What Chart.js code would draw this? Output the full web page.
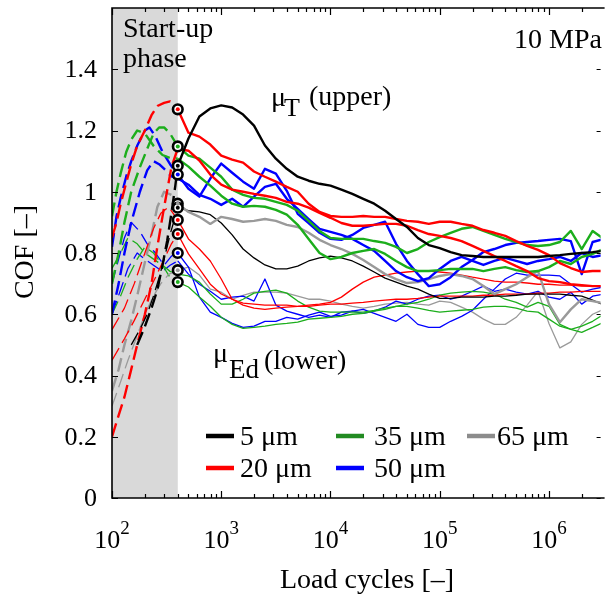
<!DOCTYPE html>
<html>
<head>
<meta charset="utf-8">
<script src="https://cdn.jsdelivr.net/npm/chart.js@4.4.1/dist/chart.umd.min.js"></script>
<style>
  html, body { margin: 0; padding: 0; overflow: hidden; background: #fff; }
  canvas { display: block; }
</style>
</head>
<body>
<canvas id="cof" width="608" height="600"></canvas>
<script>
// COF vs load cycles, 10 MPa, upper (mu_T) and lower (mu_Ed) curves per roughness
const cycles = [400, 501, 631, 794, 1000, 1259, 1585, 1995, 2512, 3162, 3981, 5012, 6310, 7943,
  10000, 12589, 15849, 19953, 25119, 31623, 39811, 50119, 63096, 79433, 100000, 125893, 158489,
  199526, 251189, 316228, 398107, 501187, 630957, 794328, 1000000, 1258925, 1584893, 1995262,
  2511886, 3162278];

// upper curves (mu_T)
const blackUpper = [1.085, 1.174, 1.246, 1.272, 1.282, 1.275, 1.252, 1.216, 1.151, 1.108, 1.075, 1.049, 1.036, 1.026, 1.02, 1.007, 0.993, 0.977, 0.961, 0.938, 0.911, 0.885, 0.849, 0.826, 0.816, 0.803, 0.793, 0.79, 0.787, 0.787, 0.787, 0.787, 0.787, 0.787, 0.79, 0.793, 0.797, 0.8, 0.803, 0.807];
const redUpperA = [1.269, 1.193, 1.18, 1.154, 1.118, 1.105, 1.095, 1.066, 1.049, 1.033, 1.016, 1.0, 0.961, 0.934, 0.921, 0.918, 0.918, 0.921, 0.918, 0.918, 0.911, 0.905, 0.902, 0.895, 0.902, 0.902, 0.895, 0.889, 0.875, 0.866, 0.856, 0.839, 0.823, 0.81, 0.793, 0.767, 0.751, 0.738, 0.741, 0.741];
const redUpperB = [1.141, 1.134, 1.102, 1.056, 1.023, 1.007, 1.0, 0.993, 0.987, 0.98, 0.967, 0.961, 0.948, 0.931, 0.915, 0.898, 0.889, 0.889, 0.892, 0.895, 0.895, 0.889, 0.875, 0.862, 0.856, 0.849, 0.839, 0.823, 0.807, 0.79, 0.774, 0.757, 0.741, 0.718, 0.708, 0.705, 0.698, 0.695, 0.692, 0.692];
const greenUpperA = [1.148, 1.118, 1.108, 1.079, 1.049, 1.007, 0.99, 0.98, 0.977, 0.967, 0.957, 0.938, 0.905, 0.872, 0.849, 0.846, 0.846, 0.846, 0.839, 0.833, 0.82, 0.8, 0.813, 0.836, 0.852, 0.866, 0.879, 0.885, 0.872, 0.859, 0.846, 0.836, 0.826, 0.823, 0.826, 0.836, 0.872, 0.813, 0.872, 0.846];
const greenUpperB = [1.108, 1.082, 1.049, 1.02, 0.987, 0.961, 0.951, 0.954, 0.951, 0.941, 0.925, 0.892, 0.846, 0.8, 0.78, 0.787, 0.8, 0.807, 0.813, 0.797, 0.774, 0.754, 0.741, 0.741, 0.744, 0.748, 0.748, 0.748, 0.741, 0.748, 0.754, 0.744, 0.738, 0.741, 0.754, 0.774, 0.764, 0.787, 0.797, 0.813];
const blueUpperA = [1.056, 1.01, 0.984, 1.043, 1.092, 1.062, 1.033, 1.01, 1.075, 1.059, 1.003, 0.928, 0.898, 0.866, 0.846, 0.843, 0.859, 0.882, 0.892, 0.902, 0.83, 0.774, 0.731, 0.692, 0.698, 0.721, 0.754, 0.777, 0.803, 0.813, 0.826, 0.833, 0.836, 0.839, 0.843, 0.846, 0.839, 0.731, 0.836, 0.846];
const blueUpperB = [1.043, 1.023, 0.99, 0.977, 0.957, 0.977, 0.951, 0.984, 1.016, 1.026, 0.977, 0.944, 0.911, 0.879, 0.869, 0.859, 0.846, 0.826, 0.807, 0.774, 0.741, 0.721, 0.708, 0.718, 0.748, 0.774, 0.787, 0.774, 0.761, 0.774, 0.784, 0.774, 0.764, 0.774, 0.78, 0.787, 0.774, 0.8, 0.787, 0.793];
const grayUpper = [0.961, 0.934, 0.918, 0.895, 0.918, 0.911, 0.902, 0.905, 0.911, 0.905, 0.892, 0.885, 0.866, 0.843, 0.826, 0.813, 0.797, 0.777, 0.754, 0.731, 0.715, 0.702, 0.705, 0.715, 0.725, 0.731, 0.725, 0.715, 0.692, 0.666, 0.682, 0.698, 0.721, 0.741, 0.633, 0.574, 0.616, 0.649, 0.643, 0.636];

// lower curves (mu_Ed)
const blackLower = [0.948, 0.938, 0.934, 0.925, 0.898, 0.859, 0.813, 0.784, 0.761, 0.748, 0.748, 0.757, 0.774, 0.784, 0.79, 0.784, 0.774, 0.757, 0.738, 0.718, 0.705, 0.692, 0.682, 0.666, 0.652, 0.652, 0.656, 0.656, 0.656, 0.659, 0.659, 0.662, 0.666, 0.666, 0.666, 0.666, 0.662, 0.659, 0.646, 0.63];
const redLowerA = [0.908, 0.846, 0.813, 0.774, 0.715, 0.649, 0.63, 0.62, 0.616, 0.62, 0.623, 0.626, 0.63, 0.633, 0.639, 0.656, 0.682, 0.705, 0.721, 0.728, 0.734, 0.738, 0.741, 0.741, 0.738, 0.734, 0.728, 0.721, 0.715, 0.708, 0.705, 0.705, 0.702, 0.698, 0.698, 0.695, 0.695, 0.692, 0.692, 0.692];
const redLowerB = [0.862, 0.797, 0.748, 0.698, 0.666, 0.649, 0.636, 0.633, 0.63, 0.63, 0.63, 0.626, 0.626, 0.63, 0.633, 0.633, 0.636, 0.639, 0.643, 0.646, 0.649, 0.649, 0.652, 0.656, 0.659, 0.659, 0.659, 0.659, 0.662, 0.662, 0.666, 0.666, 0.666, 0.669, 0.669, 0.672, 0.672, 0.675, 0.675, 0.675];
const greenLowerA = [0.705, 0.689, 0.656, 0.626, 0.59, 0.567, 0.554, 0.557, 0.561, 0.567, 0.57, 0.574, 0.584, 0.587, 0.59, 0.593, 0.6, 0.603, 0.61, 0.616, 0.626, 0.633, 0.639, 0.649, 0.662, 0.669, 0.672, 0.675, 0.672, 0.666, 0.649, 0.639, 0.623, 0.639, 0.626, 0.567, 0.551, 0.561, 0.577, 0.6];
const greenLowerB = [0.731, 0.725, 0.705, 0.666, 0.633, 0.633, 0.649, 0.669, 0.675, 0.679, 0.669, 0.643, 0.623, 0.61, 0.607, 0.607, 0.607, 0.607, 0.613, 0.62, 0.626, 0.626, 0.62, 0.613, 0.607, 0.61, 0.613, 0.616, 0.623, 0.626, 0.626, 0.62, 0.61, 0.607, 0.584, 0.561, 0.551, 0.541, 0.557, 0.574];
const blueLowerA = [0.8, 0.754, 0.656, 0.607, 0.59, 0.57, 0.557, 0.561, 0.577, 0.577, 0.59, 0.584, 0.597, 0.607, 0.593, 0.597, 0.61, 0.616, 0.603, 0.59, 0.577, 0.6, 0.567, 0.557, 0.557, 0.577, 0.593, 0.613, 0.649, 0.682, 0.715, 0.734, 0.728, 0.728, 0.728, 0.725, 0.698, 0.672, 0.682, 0.689];
const blueLowerB = [0.774, 0.731, 0.698, 0.675, 0.649, 0.656, 0.659, 0.643, 0.715, 0.63, 0.61, 0.6, 0.59, 0.597, 0.59, 0.607, 0.61, 0.603, 0.61, 0.623, 0.643, 0.633, 0.649, 0.659, 0.662, 0.649, 0.659, 0.675, 0.692, 0.675, 0.682, 0.672, 0.666, 0.675, 0.656, 0.649, 0.672, 0.633, 0.659, 0.666];
const grayLower = [0.744, 0.754, 0.728, 0.682, 0.672, 0.649, 0.662, 0.672, 0.672, 0.672, 0.669, 0.659, 0.649, 0.649, 0.643, 0.633, 0.626, 0.62, 0.626, 0.633, 0.636, 0.639, 0.633, 0.63, 0.643, 0.639, 0.623, 0.607, 0.584, 0.567, 0.567, 0.59, 0.63, 0.675, 0.57, 0.49, 0.51, 0.567, 0.6, 0.616];

// start-up phase (dashed), cycles 100..400
const blackUpperStartX = [170, 200, 230, 260, 290, 320, 350, 380, 400];
const blackUpperStartY = [0.50, 0.56, 0.62, 0.68, 0.76, 0.84, 0.93, 1.02, 1.085];
const blackLowerStartX = [150, 180, 210, 240, 270, 300, 340, 400];
const blackLowerStartY = [0.50, 0.55, 0.60, 0.66, 0.72, 0.78, 0.86, 0.948];
const redUpperAStartX = [100, 110, 120, 135, 150, 170, 200, 230, 260, 300, 340, 400];
const redUpperAStartY = [0.85, 0.90, 0.96, 1.03, 1.09, 1.15, 1.20, 1.25, 1.28, 1.29, 1.295, 1.269];
const redUpperBStartX = [100, 115, 130, 150, 170, 200, 230, 260, 300, 350, 400];
const redUpperBStartY = [0.20, 0.27, 0.33, 0.42, 0.50, 0.60, 0.70, 0.82, 0.95, 1.08, 1.141];
const redLowerAStartX = [100, 130, 160, 200, 240, 280, 330, 400];
const redLowerAStartY = [0.55, 0.62, 0.70, 0.80, 0.88, 0.93, 0.95, 0.908];
const redLowerBStartX = [100, 130, 160, 200, 250, 300, 350, 400];
const redLowerBStartY = [0.45, 0.52, 0.58, 0.65, 0.72, 0.78, 0.83, 0.862];
const greenUpperAStartX = [100, 115, 130, 150, 180, 210, 240, 270, 300, 340, 400];
const greenUpperAStartY = [0.70, 0.80, 0.90, 1.00, 1.08, 1.14, 1.19, 1.21, 1.21, 1.19, 1.148];
const greenUpperBStartX = [100, 110, 120, 135, 150, 170, 200, 240, 290, 340, 400];
const greenUpperBStartY = [0.92, 1.00, 1.06, 1.13, 1.17, 1.20, 1.19, 1.15, 1.12, 1.11, 1.108];
const blueUpperAStartX = [100, 110, 120, 135, 150, 170, 200, 220, 250, 290, 340, 400];
const blueUpperAStartY = [0.82, 0.92, 0.98, 1.05, 1.10, 1.15, 1.20, 1.21, 1.18, 1.13, 1.09, 1.056];
const blueUpperBStartX = [100, 115, 130, 150, 180, 210, 240, 270, 310, 350, 400];
const blueUpperBStartY = [0.60, 0.70, 0.80, 0.90, 1.00, 1.07, 1.10, 1.09, 1.07, 1.05, 1.043];
const grayUpperStartX = [100, 115, 130, 150, 170, 200, 230, 260, 300, 350, 400];
const grayUpperStartY = [0.35, 0.42, 0.50, 0.58, 0.66, 0.77, 0.86, 0.95, 1.00, 0.99, 0.961];
const grayLowerStartX = [100, 120, 140, 170, 200, 240, 280, 330, 400];
const grayLowerStartY = [0.30, 0.38, 0.45, 0.53, 0.60, 0.66, 0.70, 0.73, 0.744];
const greenLowerAStartX = [100, 120, 140, 170, 200, 240, 290, 340, 400];
const greenLowerAStartY = [0.60, 0.66, 0.72, 0.78, 0.82, 0.80, 0.76, 0.72, 0.705];
const greenLowerBStartX = [100, 120, 140, 170, 200, 240, 290, 340, 400];
const greenLowerBStartY = [0.75, 0.80, 0.85, 0.83, 0.80, 0.78, 0.76, 0.74, 0.731];
const blueLowerAStartX = [100, 115, 130, 150, 180, 210, 250, 300, 350, 400];
const blueLowerAStartY = [0.70, 0.78, 0.85, 0.90, 0.87, 0.83, 0.80, 0.76, 0.79, 0.80];
const blueLowerBStartX = [100, 120, 140, 170, 200, 240, 290, 340, 400];
const blueLowerBStartY = [0.60, 0.68, 0.75, 0.80, 0.78, 0.76, 0.74, 0.76, 0.774];

// markers at the end of the start-up phase
const circleCycle = 400;
const circleValues = [1.269, 1.148, 1.085, 1.056, 0.961, 0.948, 0.908, 0.862, 0.80, 0.744, 0.705];
const circleKinds = ['red', 'green', 'black', 'blue', 'gray', 'black', 'red', 'red', 'blue', 'gray', 'green'];

const startupEnd = 400;
const xMax = 2970000; // visible right edge of the cropped plot
const yTicks = [0, 0.2, 0.4, 0.6, 0.8, 1, 1.2, 1.4];
const yTickLabels = ['0', '0.2', '0.4', '0.6', '0.8', '1', '1.2', '1.4'];
const xDecades = [2, 3, 4, 5, 6];
const legendLabels = ['5 μm', '20 μm', '35 μm', '50 μm', '65 μm'];
const legendKinds = ['black', 'red', 'green', 'blue', 'gray'];

const lineColors = { black: '#000000', red: '#ff0000', green: '#1cae1c', blue: '#0000ff', gray: '#9a9a9a' };
const legendColors = { black: '#000000', red: '#ff0000', green: '#228b22', blue: '#0000ff', gray: '#8c8c8c' };
const SERIF = '"Liberation Serif", "Times New Roman", serif';

function curve(xs, ys, kind, width, dashed) {
  return {
    data: xs.map((x, i) => ({ x, y: ys[i] })),
    borderColor: lineColors[kind],
    borderWidth: width,
    borderDash: dashed ? [14, 6] : [],
    borderJoinStyle: 'round',
    showLine: true,
    pointRadius: 0,
    fill: false
  };
}

const upper = [
  [blackUpper, 'black'], [redUpperA, 'red'], [redUpperB, 'red'], [greenUpperA, 'green'],
  [greenUpperB, 'green'], [blueUpperA, 'blue'], [blueUpperB, 'blue'], [grayUpper, 'gray']
];
const lower = [
  [blackLower, 'black'], [redLowerA, 'red'], [redLowerB, 'red'], [greenLowerA, 'green'],
  [greenLowerB, 'green'], [blueLowerA, 'blue'], [blueLowerB, 'blue'], [grayLower, 'gray']
];
const startup = [
  [blackUpperStartX, blackUpperStartY, 'black', 2.4], [blackLowerStartX, blackLowerStartY, 'black', 1.3],
  [redUpperAStartX, redUpperAStartY, 'red', 2.4], [redUpperBStartX, redUpperBStartY, 'red', 2.4],
  [redLowerAStartX, redLowerAStartY, 'red', 1.3], [redLowerBStartX, redLowerBStartY, 'red', 1.3],
  [greenUpperAStartX, greenUpperAStartY, 'green', 2.4], [greenUpperBStartX, greenUpperBStartY, 'green', 2.4],
  [blueUpperAStartX, blueUpperAStartY, 'blue', 2.4], [blueUpperBStartX, blueUpperBStartY, 'blue', 2.4],
  [grayUpperStartX, grayUpperStartY, 'gray', 2.4], [grayLowerStartX, grayLowerStartY, 'gray', 1.3],
  [greenLowerAStartX, greenLowerAStartY, 'green', 1.3], [greenLowerBStartX, greenLowerBStartY, 'green', 1.3],
  [blueLowerAStartX, blueLowerAStartY, 'blue', 1.3], [blueLowerBStartX, blueLowerBStartY, 'blue', 1.3]
];

const circlePoints = circleValues.map(v => ({ x: circleCycle, y: v }));
const datasets = [
  {
    data: circlePoints,
    pointRadius: 2,
    pointBorderWidth: 0,
    pointBackgroundColor: circleKinds.map(k => lineColors[k]),
    showLine: false
  },
  {
    data: circlePoints,
    pointRadius: 4.8,
    pointBorderWidth: 2.6,
    pointBorderColor: '#000000',
    pointBackgroundColor: '#ffffff',
    showLine: false
  },
  ...upper.map(([ys, kind]) => curve(cycles, ys, kind, 2.4, false)),
  ...lower.map(([ys, kind]) => curve(cycles, ys, kind, 1.3, false)),
  ...startup.map(([xs, ys, kind, w]) => curve(xs, ys, kind, w, true))
];

function drawText(ctx, text, x, y, size, align) {
  ctx.font = `${size}px ${SERIF}`;
  ctx.textAlign = align || 'left';
  ctx.fillText(text, x, y);
  return ctx.measureText(text).width;
}

const frame = {
  id: 'frame',
  beforeDatasetsDraw(chart) {
    const { ctx, chartArea: a, scales: { x } } = chart;
    const x0 = x.getPixelForValue(x.min);
    const x1 = x.getPixelForValue(startupEnd);
    ctx.save();
    ctx.fillStyle = '#d9d9d9';
    ctx.fillRect(x0, a.top, x1 - x0, a.bottom - a.top);
    ctx.restore();
  },
  afterDatasetsDraw(chart) {
    const { ctx, chartArea: a, scales: { x, y } } = chart;
    ctx.save();
    ctx.strokeStyle = '#000';
    ctx.fillStyle = '#000';
    // frame: the right side lies just outside the cropped picture
    ctx.lineWidth = 1.6;
    ctx.beginPath();
    ctx.moveTo(a.right + 4, a.top); ctx.lineTo(a.left, a.top);
    ctx.lineTo(a.left, a.bottom); ctx.lineTo(a.right + 4, a.bottom);
    ctx.stroke();

    // log ticks, inward, bottom and top
    ctx.lineWidth = 1.2;
    ctx.beginPath();
    xDecades.forEach(d => {
      for (let m = 1; m <= 9; m++) {
        const v = m * Math.pow(10, d);
        if (v > x.max) break;
        const px = Math.round(x.getPixelForValue(v)) + 0.5;
        const len = m === 1 ? 7 : 4;
        ctx.moveTo(px, a.bottom); ctx.lineTo(px, a.bottom - len);
        ctx.moveTo(px, a.top); ctx.lineTo(px, a.top + len);
      }
    });
    yTicks.forEach(v => {
      const py = Math.round(y.getPixelForValue(v)) + 0.5;
      ctx.moveTo(a.left, py); ctx.lineTo(a.left + 6, py);
      ctx.moveTo(a.right, py); ctx.lineTo(a.right - 4, py);
    });
    ctx.stroke();

    // y tick labels
    ctx.textBaseline = 'middle';
    yTicks.forEach((v, i) => drawText(ctx, yTickLabels[i], a.left - 15, y.getPixelForValue(v) + 1, 26, 'right'));

    // x tick labels 10^n
    ctx.textBaseline = 'alphabetic';
    xDecades.forEach(d => {
      const px = x.getPixelForValue(Math.pow(10, d));
      ctx.font = `26px ${SERIF}`;
      const w10 = ctx.measureText('10').width;
      ctx.font = `19px ${SERIF}`;
      const wExp = ctx.measureText(String(d)).width;
      const start = px - (w10 + wExp) / 2;
      drawText(ctx, '10', start, 548, 26);
      drawText(ctx, String(d), start + w10, 534, 19);
    });

    // axis titles
    drawText(ctx, 'Load cycles [–]', 367, 588, 28, 'center');
    ctx.save();
    ctx.translate(33, 252);
    ctx.rotate(-Math.PI / 2);
    drawText(ctx, 'COF [–]', 0, 0, 28, 'center');
    ctx.restore();

    // annotations
    drawText(ctx, 'Start-up', 123, 37, 28);
    drawText(ctx, 'phase', 123, 67, 28);
    drawText(ctx, '10 MPa', 514, 48, 28);
    drawText(ctx, 'μ', 271, 106, 28);
    drawText(ctx, 'T', 284, 116, 26);
    drawText(ctx, '(upper)', 309, 105, 28);
    drawText(ctx, 'μ', 213, 362, 28);
    drawText(ctx, 'Ed', 229, 378, 27);
    drawText(ctx, '(lower)', 264, 369, 28);

    // legend
    const slots = [
      { x: 206, y: 436, tx: 240 }, { x: 206, y: 468, tx: 240 },
      { x: 336, y: 436, tx: 374 }, { x: 336, y: 468, tx: 374 },
      { x: 467, y: 436, tx: 497 }
    ];
    ctx.lineWidth = 4.5;
    legendLabels.forEach((label, i) => {
      const s = slots[i];
      ctx.strokeStyle = legendColors[legendKinds[i]];
      ctx.beginPath();
      ctx.moveTo(s.x, s.y); ctx.lineTo(s.x + 28, s.y);
      ctx.stroke();
      ctx.fillStyle = '#000';
      drawText(ctx, label, s.tx, s.y + 9, 28);
    });
    ctx.restore();
  }
};

new Chart(document.getElementById('cof'), {
  type: 'scatter',
  data: { datasets },
  options: {
    responsive: false,
    animation: false,
    devicePixelRatio: 1,
    layout: { padding: { left: 112, top: 8, right: 0, bottom: 102 } },
    plugins: { legend: { display: false }, tooltip: { enabled: false } },
    scales: {
      x: { type: 'logarithmic', min: 100, max: xMax, display: false },
      y: { type: 'linear', min: 0, max: 1.6, display: false }
    }
  },
  plugins: [frame]
});
</script>
</body>
</html>
